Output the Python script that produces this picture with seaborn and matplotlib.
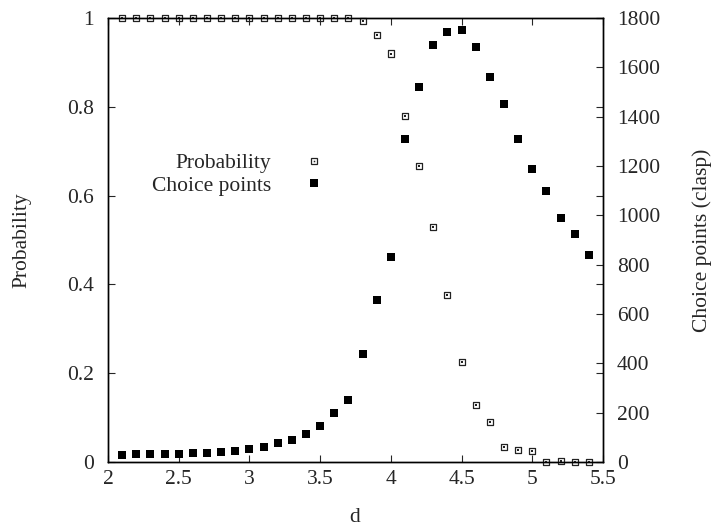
import matplotlib
matplotlib.use("Agg")
import matplotlib.pyplot as plt
import seaborn as sns
import pandas as pd
from matplotlib.lines import Line2D
from matplotlib.ticker import FuncFormatter

d_values = [2.1, 2.2, 2.3, 2.4, 2.5, 2.6, 2.7, 2.8, 2.9, 3.0,
            3.1, 3.2, 3.3, 3.4, 3.5, 3.6, 3.7, 3.8, 3.9, 4.0,
            4.1, 4.2, 4.3, 4.4, 4.5, 4.6, 4.7, 4.8, 4.9, 5.0,
            5.1, 5.2, 5.3, 5.4]
probability = [1, 1, 1, 1, 1, 1, 1, 1, 1, 1,
               1, 1, 1, 1, 1, 1, 1, 0.994, 0.962, 0.920,
               0.779, 0.667, 0.530, 0.376, 0.225, 0.128, 0.091, 0.033, 0.027, 0.025,
               0.0, 0.002, 0.0, 0.0]
choice_points = [27, 31, 31, 31, 31, 35, 35, 39, 43, 51,
                 60, 76, 88, 112, 145, 197, 250, 437, 655, 830,
                 1308, 1519, 1689, 1742, 1750, 1681, 1560, 1450, 1308, 1188,
                 1100, 988, 923, 839]
x_ticks = [2, 2.5, 3, 3.5, 4, 4.5, 5, 5.5]
y_ticks = [0, 0.2, 0.4, 0.6, 0.8, 1]
y2_ticks = [0, 200, 400, 600, 800, 1000, 1200, 1400, 1600, 1800]

df = pd.DataFrame({"d": d_values, "p": probability, "c": choice_points})

sns.set_style("ticks")
plt.rcParams["font.family"] = ["Liberation Serif", "DejaVu Serif"]
FS = 15.5

W, H = 718, 527
fig = plt.figure(figsize=(W / 100, H / 100), dpi=100)
ax = fig.add_axes([108 / W, 65 / H, 495 / W, 444 / H])
ax2 = ax.twinx()

sns.scatterplot(data=df, x="d", y="p", ax=ax, marker="s", s=19,
                facecolor="none", edgecolor="#222222", linewidth=0.9,
                clip_on=False, zorder=3)
sns.scatterplot(data=df, x="d", y="p", ax=ax, marker="s", s=1.2,
                color="#222222", linewidth=0, clip_on=False, zorder=4)
sns.scatterplot(data=df, x="d", y="c", ax=ax2, marker="s", s=26,
                color="black", linewidth=0, clip_on=False, zorder=3)

ax.set_xlim(2, 5.5)
ax.set_ylim(0, 1)
ax2.set_ylim(0, 1800)
ax.set_xticks(x_ticks)
ax.set_yticks(y_ticks)
ax2.set_yticks(y2_ticks)
fmt = FuncFormatter(lambda v, p: "%g" % v)
ax.xaxis.set_major_formatter(fmt)
ax.yaxis.set_major_formatter(fmt)
ax2.yaxis.set_major_formatter(fmt)

ax.tick_params(axis="x", direction="in", top=True, bottom=True, length=5,
               width=0.8, labelsize=FS, pad=6)
ax.tick_params(axis="y", direction="in", left=True, right=True, labelright=False,
               length=5, width=0.8, labelsize=FS, pad=10)
ax2.tick_params(axis="y", direction="in", right=True, length=5, width=0.8,
                labelsize=FS, pad=10)

for a in (ax, ax2):
    for s in a.spines.values():
        s.set_visible(True)
        s.set_linewidth(1.0)
        s.set_color("black")

ax.set_xlabel("")
ax.set_ylabel("")
ax2.set_ylabel("")
fig.text(355 / W, 1 - 517 / H, "d", ha="center", va="center", fontsize=FS)
fig.text(22 / W, 1 - 240 / H, "Probability", ha="center", va="center",
         rotation=90, fontsize=FS)
fig.text(702 / W, 1 - 240 / H, "Choice points (clasp)", ha="center", va="center",
         rotation=90, fontsize=FS)

h_open = Line2D([], [], linestyle="none", marker="s", markersize=4.3,
                markerfacecolor="none", markeredgecolor="#222222", markeredgewidth=0.9)
h_dot = Line2D([], [], linestyle="none", marker="s", markersize=1.1,
               markerfacecolor="#222222", markeredgewidth=0)
h_fill = Line2D([], [], linestyle="none", marker="s", markersize=5.1,
                markerfacecolor="black", markeredgewidth=0)
leg = ax.legend([(h_open, h_dot), h_fill], ["Probability", "Choice points"],
                loc="upper right", bbox_to_anchor=(325 / W, 1 - 153 / H),
                bbox_transform=fig.transFigure, frameon=False, markerfirst=False,
                handlelength=1.0, handletextpad=1.49, labelspacing=0.12,
                borderpad=0, borderaxespad=0, fontsize=FS)

fig.savefig("out.png", dpi=100)
